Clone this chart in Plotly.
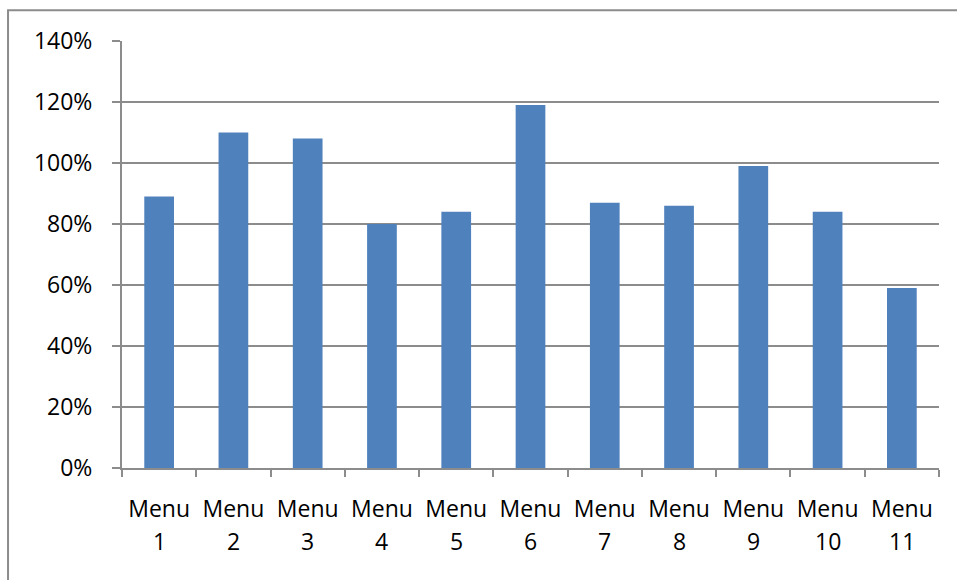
import plotly.graph_objects as go

categories = ["Menu 1", "Menu 2", "Menu 3", "Menu 4", "Menu 5", "Menu 6",
              "Menu 7", "Menu 8", "Menu 9", "Menu 10", "Menu 11"]
values = [0.89, 1.10, 1.08, 0.80, 0.84, 1.19, 0.87, 0.86, 0.99, 0.84, 0.59]
y_ticks = [0, 0.2, 0.4, 0.6, 0.8, 1.0, 1.2, 1.4]

FONT = "Open Sans"
GRAY = "#8c8c8c"
FS = 23

fig = go.Figure(go.Bar(x=categories, y=values, marker_color="#4F81BD",
                       marker_line_width=0, width=0.4))

annotations = []
for c in categories:
    annotations.append(dict(x=c, y=0, xref="x", yref="y", text=c.split(" ")[1],
                            showarrow=False, yanchor="top", yshift=-55,
                            font=dict(family=FONT, size=FS, color="#000")))

fig.update_layout(
    width=957, height=580,
    margin=dict(l=122, r=18, t=41, b=112),
    paper_bgcolor="white", plot_bgcolor="white",
    showlegend=False,
    font=dict(family=FONT, size=FS, color="#000"),
    xaxis=dict(
        type="category",
        tickvals=categories, ticktext=["Menu"] * len(categories),
        tickson="boundaries", ticks="outside", ticklen=7, tickwidth=2, tickcolor=GRAY,
        showline=True, linecolor=GRAY, linewidth=2,
        showgrid=False, ticklabelstandoff=19,
        tickfont=dict(family=FONT, size=FS, color="#000"),
    ),
    yaxis=dict(
        range=[0, 1.4], tickvals=y_ticks, tickformat=".0%",
        ticks="outside", ticklen=8, tickwidth=2, tickcolor=GRAY,
        showline=True, linecolor=GRAY, linewidth=2,
        showgrid=True, gridcolor=GRAY, gridwidth=1.5,
        zeroline=False, ticklabelstandoff=15,
        tickfont=dict(family=FONT, size=FS, color="#000"),
    ),
    annotations=annotations,
    shapes=[dict(type="rect", xref="paper", yref="paper",
                 x0=-0.1395, x1=1.2, y0=-0.5, y1=1.072,
                 line=dict(color=GRAY, width=2), fillcolor="rgba(0,0,0,0)")],
)

fig.write_html("out.html")
